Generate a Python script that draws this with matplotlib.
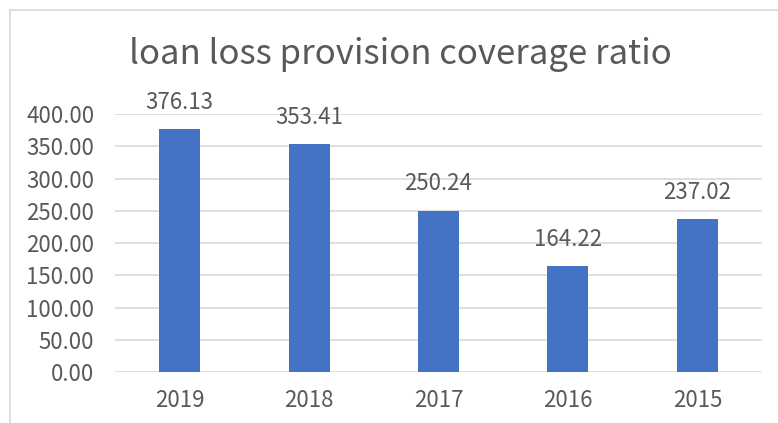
import matplotlib
matplotlib.use("Agg")
import matplotlib.pyplot as plt
from matplotlib.lines import Line2D

plt.rcParams['font.family'] = ['Noto Sans CJK SC', 'DejaVu Sans']
plt.rcParams['font.weight'] = 'light'

years = ["2019", "2018", "2017", "2016", "2015"]
ratios = [376.13, 353.41, 250.24, 164.22, 237.02]
y_ticks = [0, 50, 100, 150, 200, 250, 300, 350, 400]

BAR = "#4472C4"
TEXT = "#595959"
GRID = "#D9D9D9"

W, H = 778, 423
fig = plt.figure(figsize=(W / 100, H / 100), dpi=100, facecolor="white")

# chart frame (only top and left edges visible in the crop)
fig.add_artist(Line2D([10 / W, 1], [1 - 10 / H] * 2, color=GRID, lw=1.2,
                      transform=fig.transFigure))
fig.add_artist(Line2D([10 / W] * 2, [0, 1 - 10 / H], color=GRID, lw=1.2,
                      transform=fig.transFigure))

ax = fig.add_axes([115 / W, 1 - 372 / H, (762 - 115) / W, (372 - 114) / H])
x = range(len(years))
ax.bar(x, ratios, width=0.317, color=BAR, zorder=3)
ax.set_xlim(-0.5, len(years) - 0.5)
ax.set_ylim(0, 400)
ax.set_yticks(y_ticks)
ax.set_yticklabels([f"{v:.2f}" for v in y_ticks])
ax.set_xticks(list(x))
ax.set_xticklabels(years)
ax.tick_params(length=0, colors=TEXT, labelsize=16)
ax.tick_params(axis="y", pad=15)
ax.tick_params(axis="x", pad=12)
ax.grid(axis="y", color=GRID, lw=1.2, zorder=1)
for s in ax.spines.values():
    s.set_visible(False)

for i, v in enumerate(ratios):
    ax.annotate(f"{v:.2f}", (i, v), xytext=(0, 11), textcoords="offset points",
                ha="center", va="bottom", color=TEXT, fontsize=16, zorder=4)

fig.text(400 / W, 1 - 55 / H, "loan loss provision coverage ratio",
         ha="center", va="center", color=TEXT, fontsize=25)

fig.savefig("out.png", dpi=100, facecolor="white")
